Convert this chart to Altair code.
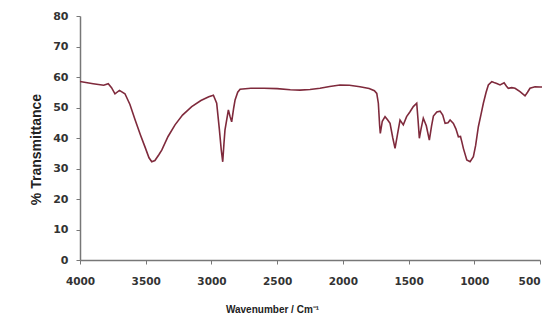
import altair as alt
import pandas as pd

wavenumber = [4000, 3900, 3820, 3785, 3760, 3734, 3700, 3658, 3620, 3581, 3540, 3505,
              3475, 3454, 3430, 3400, 3378, 3330, 3277, 3220, 3150, 3080, 3020, 2985,
              2960, 2940, 2925, 2914, 2905, 2897, 2871, 2858, 2846, 2830, 2820, 2800,
              2782, 2700, 2600, 2500, 2400, 2326, 2250, 2174, 2100, 2022, 1950, 1870,
              1800, 1760, 1742, 1730, 1720, 1715, 1700, 1679, 1660, 1641, 1620, 1603,
              1585, 1565, 1540, 1515, 1489, 1464, 1438, 1428, 1418, 1405, 1388, 1365,
              1342, 1325, 1311, 1285, 1260, 1240, 1222, 1200, 1184, 1159, 1140, 1121,
              1105, 1095, 1083, 1057, 1032, 1007, 990, 969, 950, 931, 910, 893, 867,
              850, 829, 804, 773, 755, 741, 715, 690, 652, 614, 595, 576, 538, 500,
              460, 440]
transmittance = [58.5, 57.8, 57.3, 57.8, 56.5, 54.5, 55.6, 54.5, 51.0, 46.0, 41.0, 37.0,
                 33.5, 32.2, 32.6, 34.5, 36.0, 40.5, 44.3, 47.5, 50.3, 52.3, 53.5, 54.0,
                 51.4, 43.0, 36.0, 32.2, 38.0, 42.6, 49.2, 47.0, 45.3, 50.0, 52.5, 55.0,
                 56.0, 56.3, 56.3, 56.2, 55.8, 55.7, 55.9, 56.3, 56.9, 57.4, 57.3, 56.8,
                 56.2, 55.5, 54.6, 51.4, 44.0, 41.5, 45.5, 47.0, 46.0, 44.8, 40.0, 36.6,
                 41.0, 45.9, 44.3, 47.0, 48.6, 50.3, 51.4, 46.0, 39.9, 43.0, 46.5, 44.0,
                 39.3, 44.0, 47.2, 48.5, 48.8, 47.5, 44.8, 45.0, 45.9, 44.8, 43.0, 40.4,
                 40.5, 38.8, 36.6, 32.8, 32.2, 33.9, 37.5, 43.7, 47.5, 51.4, 55.0, 57.4,
                 58.5, 58.2, 57.9, 57.4, 58.1, 57.0, 56.3, 56.5, 56.3, 55.2, 53.8, 55.0,
                 56.3, 56.8, 56.7, 56.8, 56.8]
x_ticks = [4000, 3500, 3000, 2500, 2000, 1500, 1000, 500]
y_ticks = [0, 10, 20, 30, 40, 50, 60, 70, 80]

df = pd.DataFrame({"wn": wavenumber, "t": transmittance})

chart = alt.Chart(df).mark_line(color="#7f2a3c", strokeWidth=1.6, clip=False).encode(
    x=alt.X("wn:Q",
            scale=alt.Scale(domain=[4000, 500], nice=False, zero=False),
            axis=alt.Axis(values=x_ticks, title="Wavenumber / Cm⁻¹", format="d",
                          labelPadding=12, labelFlush=False, labelOverlap=False,
                          labelFontSize=10.5,
                          labelAlign=alt.expr("datum.value == 500 ? 'right' : 'center'"),
                          titleX=192, titleY=44,
                          titleFontSize=10, titleFont="Liberation Sans")),
    y=alt.Y("t:Q",
            scale=alt.Scale(domain=[0, 80], nice=False),
            axis=alt.Axis(values=y_ticks, title="% Transmittance",
                          labelPadding=8, labelFlush=False,
                          titleX=-37, titleY=133,
                          titleFontSize=14, titleFont="Liberation Sans")),
    order=alt.Order("wn:Q", sort="descending"),
).properties(
    width=460, height=244,
    autosize=alt.AutoSizeParams(type="none"),
    padding={"left": 72, "top": 8, "right": 2, "bottom": 56},
).configure_view(stroke=None).configure_axis(
    grid=False,
    domain=True, ticks=True,
    domainColor="#777777", domainWidth=1.5,
    tickColor="#777777", tickSize=4, tickWidth=1,
    labelFont="DejaVu Sans", labelFontWeight="bold", labelFontSize=11, labelColor="#333333",
    titleFontWeight="bold", titleColor="#222222",
)

chart.save("out.html", embed_options={"renderer": "svg", "actions": False})
